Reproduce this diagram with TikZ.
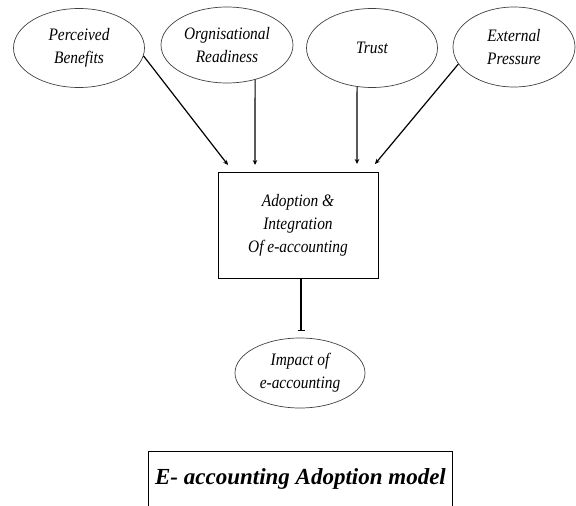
\documentclass[tikz,border=0pt]{standalone}
\usepackage{fontspec}
\setmainfont{Liberation Serif}
\newfontfamily\narrowserif[FakeStretch=0.88]{Liberation Serif}
\usetikzlibrary{shapes, arrows.meta, calc}

\begin{document}
\begin{tikzpicture}[x=1pt, y=-1pt,
        factor/.style={ellipse, draw=black!75, line width=0.7pt, inner sep=0pt,
            minimum width=131pt, minimum height=79pt, align=center,
            font=\narrowserif\fontsize{17.5}{23}\selectfont\itshape},
        link/.style={line width=1.2pt, -{Stealth[length=5pt, width=4.5pt]}}]
    \useasboundingbox (0,0) rectangle (576,506);

    % Nodes
    \node[factor] (Benefits) at (79,48) {Perceived\\Benefits};
    \node[factor, minimum width=132pt, minimum height=76pt] (Readiness) at (227,45) {Orgnisational\\Readiness};
    \node[factor] (Trust) at (372,48) {Trust};
    \node[factor, minimum width=122pt, minimum height=80pt] (Pressure) at (514,47) {External\\Pressure};
    \node[draw, line width=0.8pt, minimum width=160pt, minimum height=106pt, align=center,
        font=\narrowserif\fontsize{17.5}{23}\selectfont\itshape] (Adoption) at (298,225) {Adoption \&\\Integration\\Of e-accounting};
    \node[factor, minimum width=130pt, minimum height=70pt] (Impact) at (300,373) {Impact of\\e-accounting};
    \node[minimum width=303pt, minimum height=54pt,
        font=\fontsize{23}{28}\selectfont\bfseries\itshape] (Title) at (300.5,479) {E- accounting Adoption model};

    % Free ends of the connectors
    \coordinate (EndBenefits) at (228,165);
    \coordinate (EndReadiness) at (255,165);
    \coordinate (EndTrust) at (357,164);
    \coordinate (EndPressure) at (375,164);
    \coordinate (EndImpact) at (301,331);

    % Edges
    % factors to adoption
    \draw[link] (Benefits.-7.5) -- (EndBenefits);
    \draw[link] (Readiness.-51) -- (EndReadiness);
    \draw[link] (Trust.-111.3) -- (EndTrust);
    \draw[link] (Pressure.-163) -- (EndPressure);

    % adoption to impact
    \draw[line width=1.2pt, -{Bar[width=7pt]}] (Adoption.south -| EndImpact) -- (EndImpact);

    % title frame, cut at the bottom
    \draw[line width=1pt] (Title.south west) |- (Title.north east) -- (Title.south east);
\end{tikzpicture}
\end{document}
